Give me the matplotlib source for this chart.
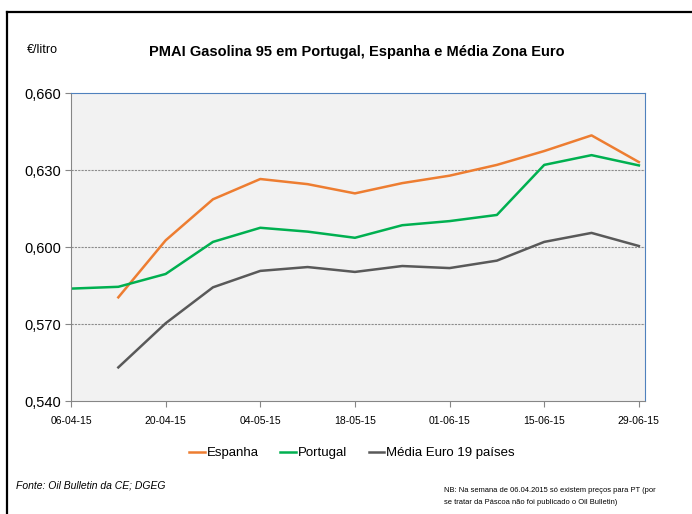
import numpy as np
import matplotlib.pyplot as plt
from matplotlib.lines import Line2D

plt.rcParams['font.family'] = ['Liberation Sans', 'DejaVu Sans']

# weekly dates (06-04-15 .. 29-06-15)
weeks = ['06-04-15', '13-04-15', '20-04-15', '27-04-15', '04-05-15', '11-05-15',
         '18-05-15', '25-05-15', '01-06-15', '08-06-15', '15-06-15', '22-06-15',
         '29-06-15']
espanha = [np.nan, 0.5804, 0.6026, 0.6186, 0.6265, 0.6245, 0.6209, 0.6249,
           0.6278, 0.6320, 0.6374, 0.6435, 0.6331]
portugal = [0.5838, 0.5845, 0.5895, 0.6020, 0.6075, 0.6060, 0.6036, 0.6085,
            0.6101, 0.6125, 0.6320, 0.6358, 0.6318]
media_euro = [np.nan, 0.5531, 0.5703, 0.5843, 0.5907, 0.5922, 0.5903, 0.5926,
              0.5918, 0.5947, 0.6020, 0.6055, 0.6004]
yticks = [0.540, 0.570, 0.600, 0.630, 0.660]

fig = plt.figure(figsize=(6.92, 5.14), dpi=100)
ax = fig.add_axes([0.1026, 0.2198, 0.8295, 0.5992])
ax.set_facecolor('#f2f2f2')

x = np.arange(len(weeks))
ax.plot(x, espanha, color='#ed7d31', linewidth=1.8, label='Espanha')
ax.plot(x, portugal, color='#00b050', linewidth=1.8, label='Portugal')
ax.plot(x, media_euro, color='#595959', linewidth=1.8, label='Média Euro 19 países')

ax.set_xlim(0, 12.13)
ax.set_ylim(0.540, 0.660)
ax.set_yticks(yticks)
ax.set_yticklabels([('%.3f' % v).replace('.', ',') for v in yticks], fontsize=10.5)
ax.set_xticks(x[::2])
ax.set_xticklabels(weeks[::2], fontsize=7.5)
ax.tick_params(axis='both', direction='out', length=4, color='#868686')
ax.tick_params(axis='x', pad=7)
ax.tick_params(axis='y', pad=3)

for v in yticks[1:-1]:
    ax.axhline(v, color='#8c8c8c', linestyle=(0, (2, 1)), linewidth=0.8, zorder=0)

for s in ['left', 'bottom']:
    ax.spines[s].set_color('#868686')
for s in ['top', 'right']:
    ax.spines[s].set_color('#4f81bd')

fig.text(0.515, 0.898, 'PMAI Gasolina 95 em Portugal, Espanha e Média Zona Euro',
         ha='center', va='center', fontsize=10.5, fontweight='bold')
fig.text(0.039, 0.902, '€/litro', ha='left', va='center', fontsize=9)

fig.legend(loc='center', bbox_to_anchor=(0.509, 0.118), ncol=3, frameon=False,
           fontsize=9.5, handlelength=1.2, handletextpad=0.15, columnspacing=1.6)

fig.text(0.023, 0.056, 'Fonte: Oil Bulletin da CE; DGEG', ha='left', va='center',
         fontsize=7.5, style='italic')
fig.text(0.642, 0.034, 'NB: Na semana de 06.04.2015 só existem preços para PT (por\n'
         'se tratar da Páscoa não foi publicado o Oil Bulletin)',
         ha='left', va='center', fontsize=5.4, linespacing=2.0)

# outer frame: top and left edges only
fig.lines.append(Line2D([0.0105, 1.0], [0.9765, 0.9765], transform=fig.transFigure,
                        color='black', linewidth=1.6))
fig.lines.append(Line2D([0.0105, 0.0105], [0.0, 0.9765], transform=fig.transFigure,
                        color='black', linewidth=1.6))

plt.savefig('out.png', dpi=100)
